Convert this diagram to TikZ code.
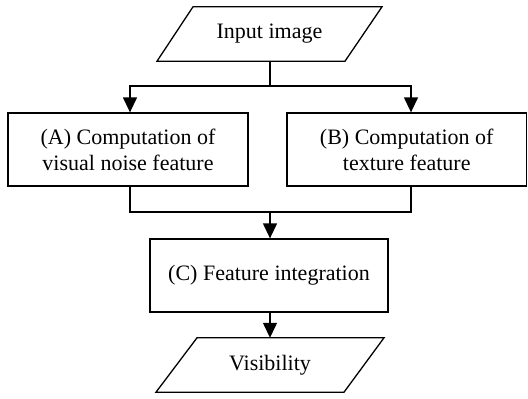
\documentclass[tikz,border=0pt]{standalone}
\usepackage{fontspec}
\setmainfont{Liberation Serif}
\usetikzlibrary{arrows.meta}
\begin{document}
\begin{tikzpicture}[x=1pt,y=-1pt,
  every node/.style={font=\fontsize{22}{26}\selectfont, inner sep=0pt, align=center},
  box/.style={draw, line width=1.3pt, minimum height=73pt},
  iobox/.style={minimum height=54pt, minimum width=100pt},
  conn/.style={line width=1.3pt},
  arr/.style={conn, -{Triangle[length=15pt,width=14pt]}},
  para/.style={line width=1.3pt, line join=miter}]
\useasboundingbox (0,0) rectangle (528,399);

\node[iobox] (in) at (269.5,34) {Input image};
\draw[para] ([xshift=-76.5pt]in.north) -- ([xshift=112.5pt]in.north) -- ([xshift=75.5pt]in.south) -- ([xshift=-112.5pt]in.south) -- cycle;

\node[box, minimum width=240pt] (A) at (128,149.5) {(A) Computation of\\visual noise feature};
\node[box, minimum width=239.5pt] (B) at (406.75,149.5) {(B) Computation of\\texture feature};
\node[box, minimum width=238pt] (C) at (269,275.5) {(C) Feature integration};

\node[iobox] (vis) at (270,365) {Visibility};
\draw[para] ([xshift=-73pt]vis.north) -- ([xshift=114pt]vis.north) -- ([xshift=74pt]vis.south) -- ([xshift=-114pt]vis.south) -- cycle;

\coordinate (split) at (270,86);
\coordinate (join) at (270,212);
\draw[conn] ([xshift=0.5pt]in.south) -- (split);
\draw[arr] (split) -| ([xshift=2pt]A.north);
\draw[arr] (split) -| ([xshift=4.25pt]B.north);
\draw[conn] ([xshift=2pt]A.south) |- (join);
\draw[conn] ([xshift=4.25pt]B.south) |- (join);
\draw[arr] (join) -- ([xshift=1pt]C.north);
\draw[arr] ([xshift=1pt]C.south) -- (vis.north);
\end{tikzpicture}
\end{document}
